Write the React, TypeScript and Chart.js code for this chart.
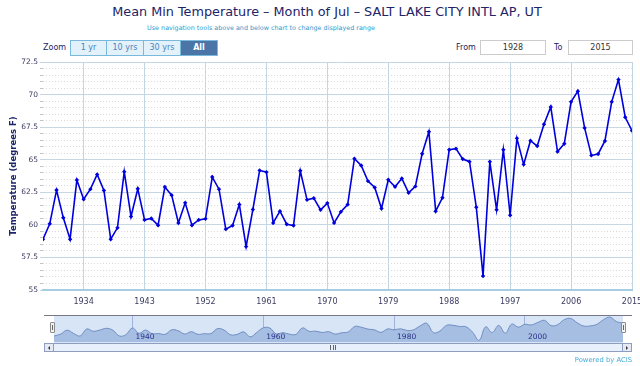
import React, { useEffect, useRef } from "react";
import { Chart, registerables } from "chart.js";
Chart.register(...registerables);

const years: number[] = [
  1928, 1929, 1930, 1931, 1932, 1933, 1934, 1935, 1936, 1937,
  1938, 1939, 1940, 1941, 1942, 1943, 1944, 1945, 1946, 1947,
  1948, 1949, 1950, 1951, 1952, 1953, 1954, 1955, 1956, 1957,
  1958, 1959, 1960, 1961, 1962, 1963, 1964, 1965, 1966, 1967,
  1968, 1969, 1970, 1971, 1972, 1973, 1974, 1975, 1976, 1977,
  1978, 1979, 1980, 1981, 1982, 1983, 1984, 1985, 1986, 1987,
  1988, 1989, 1990, 1991, 1992, 1993, 1994, 1995, 1996, 1997,
  1998, 1999, 2000, 2001, 2002, 2003, 2004, 2005, 2006, 2007,
  2008, 2009, 2010, 2011, 2012, 2013, 2014, 2015,
];

const meanMinTemp: number[] = [
  58.9, 60.08, 62.67, 60.54, 58.9, 63.44, 61.97, 62.74, 63.87, 62.64,
  58.9, 59.77, 64.08, 60.64, 62.77, 60.38, 60.49, 59.97, 62.9, 62.28,
  60.15, 61.69, 59.97, 60.38, 60.46, 63.67, 62.74, 59.67, 59.95, 61.56,
  58.33, 61.18, 64.18, 64.05, 60.15, 61.05, 60.05, 59.95, 64.15, 61.92,
  62.05, 61.15, 61.67, 60.15, 61.0, 61.56, 65.08, 64.56, 63.36, 62.87,
  61.26, 63.46, 62.92, 63.56, 62.46, 62.95, 65.46, 67.15, 61.05, 62.08,
  65.77, 65.85, 65.05, 64.85, 61.36, 56.08, 64.85, 61.15, 65.77, 60.74,
  66.64, 64.64, 66.46, 66.05, 67.72, 69.05, 65.62, 66.23, 69.44, 70.26,
  67.44, 65.33, 65.44, 66.44, 69.44, 71.15, 68.26, 67.23,
];

const xTickYears: number[] = [1934, 1943, 1952, 1961, 1970, 1979, 1988, 1997, 2006, 2015];
const navTickYears: number[] = [1940, 1960, 1980, 2000];
const Y_MIN = 55;
const Y_MAX = 72.5;
const Y_MAJOR = 2.5;
const Y_MINOR = 0.5;

const FONT = "'DejaVu Sans', 'Open Sans', sans-serif";
const NAVY = "#1c2568";
const TICK_COLOR = "#3b3b62";

const isMajor = (v: number) => Math.abs(v / Y_MAJOR - Math.round(v / Y_MAJOR)) < 1e-6;

export default function App() {
  const mainRef = useRef<HTMLCanvasElement | null>(null);
  const navRef = useRef<HTMLCanvasElement | null>(null);

  useEffect(() => {
    const points = years.map((yr, i) => ({ x: yr, y: meanMinTemp[i] }));

    const main = new Chart(mainRef.current!, {
      type: "line",
      data: {
        datasets: [
          {
            data: points,
            borderColor: "#0000dd",
            backgroundColor: "#0000dd",
            borderWidth: 1.6,
            pointStyle: "rectRot",
            pointRadius: 2.2,
            pointBorderWidth: 0,
            pointBackgroundColor: "#0000dd",
            tension: 0,
          },
        ],
      },
      options: {
        animation: false,
        responsive: false,
        layout: { padding: { top: 12, right: 8, left: 0, bottom: 0 } },
        plugins: { legend: { display: false }, tooltip: { enabled: false } },
        scales: {
          x: {
            type: "linear",
            min: years[0],
            max: years[years.length - 1],
            afterBuildTicks: (s: any) => {
              s.ticks = xTickYears.map((v) => ({ value: v }));
            },
            afterFit: (s: any) => {
              s.height = 25;
              s.paddingLeft = 0;
              s.paddingRight = 0;
            },
            ticks: {
              autoSkip: false,
              maxRotation: 0,
              padding: 7,
              color: TICK_COLOR,
              font: { family: FONT, size: 8 },
              callback: (v: any) => String(v),
            },
            grid: { color: "#c2d7e3", drawTicks: false, lineWidth: 1 },
            border: { display: true, color: "#a6cde1", width: 2 },
          },
          y: {
            type: "linear",
            min: Y_MIN,
            max: Y_MAX,
            afterBuildTicks: (s: any) => {
              const t: any[] = [];
              for (let v = Y_MIN; v <= Y_MAX + 1e-9; v += Y_MINOR) t.push({ value: Math.round(v * 10) / 10 });
              s.ticks = t;
            },
            afterFit: (s: any) => {
              s.width = 43;
              s.paddingTop = 0;
              s.paddingBottom = 0;
            },
            ticks: {
              autoSkip: false,
              padding: 2,
              color: TICK_COLOR,
              font: { family: FONT, size: 7.5 },
              callback: (v: any) => (isMajor(Number(v)) ? String(v) : ""),
            },
            grid: {
              tickLength: 3,
              color: (ctx: any) => (ctx.tick && isMajor(ctx.tick.value) ? "#c6d6e2" : "#dadada"),
              tickColor: (ctx: any) => (ctx.tick && isMajor(ctx.tick.value) ? "#c6d6e2" : "#c4c4c4"),
              lineWidth: 1,
            },
            border: {
              display: false,
              dash: (ctx: any) => (ctx.tick && isMajor(ctx.tick.value) ? [] : [1, 2]),
            },
            title: {
              display: true,
              text: "Temperature (degrees F)",
              color: NAVY,
              font: { family: FONT, size: 8.5, weight: "bold" },
              padding: { top: 9, bottom: 0 },
            },
          },
        },
      },
    } as any);

    const navLabels = {
      id: "navLabels",
      afterDraw(chart: any) {
        const xs = chart.scales.x;
        const ctx = chart.ctx;
        ctx.save();
        ctx.fillStyle = "#2b2f8a";
        ctx.font = `7.5px ${FONT}`;
        ctx.textBaseline = "alphabetic";
        ctx.textAlign = "left";
        navTickYears.forEach((v) => {
          ctx.fillText(String(v), xs.getPixelForValue(v) + 3, chart.chartArea.bottom - 3);
        });
        ctx.restore();
      },
    };

    const nav = new Chart(navRef.current!, {
      type: "line",
      data: {
        datasets: [
          {
            data: points,
            borderColor: "#6f8dc1",
            backgroundColor: "#a5bee2",
            borderWidth: 1,
            fill: "start",
            tension: 0.4,
            pointRadius: 0,
          },
        ],
      },
      options: {
        animation: false,
        responsive: false,
        layout: { padding: { top: 2, right: 17, left: 54, bottom: 1 } },
        plugins: { legend: { display: false }, tooltip: { enabled: false } },
        scales: {
          x: {
            type: "linear",
            min: years[0],
            max: years[years.length - 1],
            z: 1,
            afterBuildTicks: (s: any) => {
              s.ticks = navTickYears.map((v) => ({ value: v }));
            },
            afterFit: (s: any) => {
              s.height = 0;
              s.paddingLeft = 0;
              s.paddingRight = 0;
            },
            ticks: { display: false },
            grid: { color: "rgba(90,120,180,0.45)", drawTicks: false, lineWidth: 1 },
            border: { display: false },
          },
          y: { display: false, min: Y_MIN, max: Y_MAX },
        },
      },
      plugins: [navLabels],
    } as any);

    return () => {
      main.destroy();
      nav.destroy();
    };
  }, []);

  const btn = (left: number, label: string, active = false): React.ReactNode => (
    <div
      key={label}
      style={{
        position: "absolute",
        left,
        top: 40,
        width: 37,
        height: 16,
        boxSizing: "border-box",
        border: "1px solid #78b9dc",
        borderLeftWidth: left === 70 ? 1 : 0,
        background: active ? "#4b74a7" : "#e3f1fb",
        color: active ? "#ffffff" : "#4a86bd",
        fontWeight: active ? "bold" : "normal",
        fontSize: 8,
        lineHeight: "14px",
        textAlign: "center",
      }}
    >
      {label}
    </div>
  );

  return (
    <div
      style={{
        position: "fixed",
        left: 0,
        top: 0,
        width: 640,
        height: 366,
        background: "#ffffff",
        overflow: "hidden",
        fontFamily: FONT,
      }}
    >
      <div
        style={{
          position: "absolute",
          left: 327,
          top: 4,
          transform: "translateX(-50%)",
          whiteSpace: "nowrap",
          fontSize: 12.8,
          lineHeight: "16px",
          color: NAVY,
        }}
      >
        Mean Min Temperature – Month of Jul – SALT LAKE CITY INTL AP, UT
      </div>
      <div
        style={{
          position: "absolute",
          left: 261,
          top: 23,
          transform: "translateX(-50%)",
          whiteSpace: "nowrap",
          fontSize: 6.4,
          lineHeight: "10px",
          color: "#3399cc",
        }}
      >
        Use navigation tools above and below chart to change displayed range
      </div>

      <div style={{ position: "absolute", left: 43, top: 41, fontSize: 8, lineHeight: "14px", color: NAVY }}>Zoom</div>
      {btn(70, "1 yr")}
      {btn(107, "10 yrs")}
      {btn(144, "30 yrs")}
      {btn(181, "All", true)}

      <div style={{ position: "absolute", left: 456, top: 41, fontSize: 8, lineHeight: "14px", color: NAVY }}>From</div>
      <div
        style={{
          position: "absolute",
          left: 480,
          top: 40,
          width: 66,
          height: 15,
          boxSizing: "border-box",
          border: "1px solid #cccccc",
          fontSize: 8,
          lineHeight: "13px",
          textAlign: "center",
          color: "#333333",
        }}
      >
        1928
      </div>
      <div style={{ position: "absolute", left: 554, top: 41, fontSize: 8, lineHeight: "14px", color: NAVY }}>To</div>
      <div
        style={{
          position: "absolute",
          left: 568,
          top: 40,
          width: 65,
          height: 15,
          boxSizing: "border-box",
          border: "1px solid #cccccc",
          fontSize: 8,
          lineHeight: "13px",
          textAlign: "center",
          color: "#333333",
        }}
      >
        2015
      </div>

      <canvas ref={mainRef} width={640} height={265} style={{ position: "absolute", left: 0, top: 50 }} />

      {/* navigator frame */}
      <div
        style={{
          position: "absolute",
          left: 44,
          top: 315,
          width: 588,
          height: 28,
          boxSizing: "border-box",
          borderTop: "1px solid #777788",
          background: "#ffffff",
        }}
      />
      <div style={{ position: "absolute", left: 54, top: 316, width: 569, height: 27, background: "#d8e5f6" }} />
      <canvas ref={navRef} width={640} height={30} style={{ position: "absolute", left: 0, top: 313 }} />
      {[50, 621].map((l) => (
        <div
          key={l}
          style={{
            position: "absolute",
            left: l,
            top: 322,
            width: 5,
            height: 11,
            boxSizing: "border-box",
            border: "1px solid #8a8a8a",
            borderRadius: 1,
            background: "#f2f2f2",
          }}
        >
          <div style={{ position: "absolute", left: 1, top: 2, width: 1, height: 5, background: "#666" }} />
        </div>
      ))}

      {/* scrollbar */}
      <div
        style={{
          position: "absolute",
          left: 44,
          top: 343,
          width: 588,
          height: 9,
          boxSizing: "border-box",
          border: "1px solid #8f9ec0",
          background: "#e7f0fb",
        }}
      />
      {[44, 622].map((l, i) => (
        <div
          key={l}
          style={{
            position: "absolute",
            left: l,
            top: 343,
            width: 10,
            height: 9,
            boxSizing: "border-box",
            border: "1px solid #8f9ec0",
            background: "#e4e9f2",
          }}
        >
          <div
            style={{
              position: "absolute",
              left: 3,
              top: 2,
              width: 0,
              height: 0,
              borderTop: "2px solid transparent",
              borderBottom: "2px solid transparent",
              borderRight: i === 0 ? "2px solid #333" : undefined,
              borderLeft: i === 1 ? "2px solid #333" : undefined,
            }}
          />
        </div>
      ))}
      <div
        style={{
          position: "absolute",
          left: 330,
          top: 345,
          width: 6,
          height: 5,
          display: "flex",
          justifyContent: "space-between",
        }}
      >
        {[0, 1, 2].map((k) => (
          <div key={k} style={{ width: 1, height: 5, background: "#666" }} />
        ))}
      </div>

      <div
        style={{
          position: "absolute",
          right: 8,
          top: 355,
          fontSize: 6.8,
          lineHeight: "10px",
          color: "#44aadd",
          whiteSpace: "nowrap",
        }}
      >
        Powered by ACIS
      </div>
    </div>
  );
}
